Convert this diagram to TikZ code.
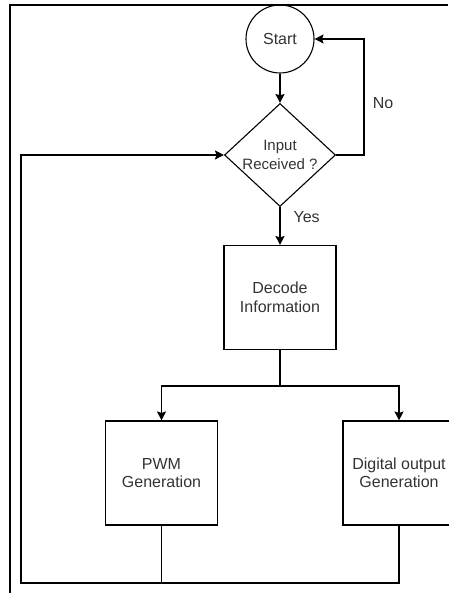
\documentclass[tikz,border=0pt]{standalone}
\usepackage{fontspec}
\setmainfont{Liberation Sans}
\usetikzlibrary{shapes.geometric,arrows.meta}
\definecolor{txtgrey}{HTML}{333333}

\begin{document}
\begin{tikzpicture}[
	x=1pt, y=1pt,
	every node/.style={ font=\fontsize{16}{18.5}\selectfont, text=txtgrey },
	terminal/.style={ circle, draw, line width=1.1pt, inner sep=0pt, minimum size=68pt },
	decision/.style={ diamond, draw, line width=1.1pt, inner sep=0pt, minimum width=111pt, minimum height=103pt },
	process/.style={ rectangle, draw, line width=1.1pt, align=center, inner sep=0pt, minimum width=112pt, minimum height=104pt },
	flow/.style={ line width=1.1pt, -{Stealth[length=9pt,width=9pt,inset=1.5pt]} },
	link/.style={ line width=1.1pt }
]

\useasboundingbox (0,0) rectangle (448,593);
\draw[line width=2.2pt] (10,-5) -- (10,588) -- (448,588);

\node[terminal] at (280,554) (start) {Start};
\node[decision, label={[font=\fontsize{15}{18.5}\selectfont, align=center]center:Input\\Received ?}] at (280,438) (input) {};
\draw[flow] (start) to (input);

\coordinate (noturn) at (364,554);
\draw[flow] (input.east) -| (noturn) -- (start);
\node at (383,490) (nolabel) {No};

\node[process] at (280,295.5) (decode) {Decode\\Information};
\draw[flow] (input) to (decode);
\node[anchor=west] at (290,376) (yeslabel) {Yes};

\coordinate (split) at (280,207);
\draw[link] (decode) -- (split);

\node[process] at (161.5,120) (pwm) {PWM\\Generation};
\node[process] at (399,120) (digital) {Digital output\\Generation};
\draw[flow] (split) -| (pwm);
\draw[flow] (split) -| (digital);

\coordinate (loopcorner) at (21,10);
\draw[link] (digital.south) |- (pwm.south |- loopcorner);
\draw[flow] (pwm.south) |- (loopcorner) |- (input.west);

\end{tikzpicture}
\end{document}
